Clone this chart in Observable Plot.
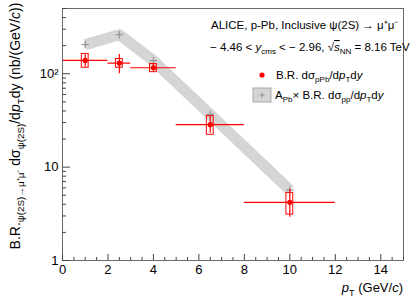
<!DOCTYPE html>
<html><head><meta charset="utf-8">
<script src="https://cdn.jsdelivr.net/npm/d3@7"></script>
<script src="https://cdn.jsdelivr.net/npm/@observablehq/plot@0.6"></script>
<style>
body{margin:0;background:#fff}
svg{font-family:"Liberation Sans",Arial,Helvetica,sans-serif}
</style>
</head><body><div id="chart"></div>
<script>
// ---- data ----
const ptCenter = [1, 2.5, 4, 6.5, 10];
const ptLow    = [0, 2, 3, 5, 8];
const ptHigh   = [2, 3, 5, 8, 12];
const yPPb     = [139, 130, 116, 28.5, 4.2];
const statLow  = [118, 100, 104, 23, 2.9];
const statHigh = [160, 161, 129, 34.5, 5.8];
const sysLow   = [116, 116, 104, 22.2, 3.1];
const sysHigh  = [163, 144, 127, 35.2, 5.3];
const yPPRef   = [205, 262, 138, 36.7, 5.7];
const xTicks = [0, 2, 4, 6, 8, 10, 12, 14];
const xTickLabels = ["0", "2", "4", "6", "8", "10", "12", "14"];
const yTicks = [1, 10, 100];
const yTickLabels = ["1", "10", "10²"];

const boxHalf = 0.15;
const pPb = ptCenter.map((x, i) => ({x, y: yPPb[i], xl: ptLow[i], xh: ptHigh[i],
  sl: statLow[i], sh: statHigh[i], yl: sysLow[i], yh: sysHigh[i]}));
const pp = ptCenter.map((x, i) => ({x, y: yPPRef[i]}));
const minorX = d3.range(0, 15.001, 0.5).filter(v => !xTicks.includes(v));
const minorY = [];
for (const dec of [1, 10, 100]) for (let k = 2; k <= 9; k++) if (k * dec <= 500) minorY.push(k * dec);

const chart = Plot.plot({
  width: 415, height: 300,
  marginLeft: 62, marginRight: 12, marginTop: 8, marginBottom: 40,
  x: {domain: [0, 15]},
  y: {type: "log", domain: [1, 500]},
  style: {fontFamily: "'Liberation Sans', Arial, sans-serif", fontSize: "13px", color: "#000", background: "#fff"},
  marks: [
    Plot.line(pp, {x: "x", y: "y", stroke: "#d5d5d5", strokeWidth: 11, strokeLinecap: "butt", strokeLinejoin: "round"}),
    Plot.dot(pp, {x: "x", y: "y", symbol: "plus", r: 2.5, stroke: "#999", strokeWidth: 1.3}),
    Plot.ruleY(pPb, {y: "y", x1: "xl", x2: "xh", stroke: "#ff0000", strokeWidth: 1.2}),
    Plot.ruleX(pPb, {x: "x", y1: "sl", y2: "sh", stroke: "#ff0000", strokeWidth: 1.2}),
    Plot.rect(pPb, {x1: d => d.x - boxHalf, x2: d => d.x + boxHalf, y1: "yl", y2: "yh", stroke: "#ff0000", fill: "none", strokeWidth: 1}),
    Plot.dot(pPb, {x: "x", y: "y", r: 2.6, fill: "#ff0000"}),
    Plot.frame({stroke: "#6a6a6a"}),
    Plot.axisX({ticks: xTicks, tickSize: -6, tickFormat: () => "", stroke: "#444"}),
    Plot.axisX({ticks: minorX, tickSize: -3, tickFormat: () => "", stroke: "#444"}),
    Plot.axisX({ticks: xTicks, tickSize: 0, tickPadding: 4, tickFormat: d => xTickLabels[xTicks.indexOf(d)], fontSize: 13, label: null}),
    Plot.axisY({ticks: yTicks, tickSize: -8, tickFormat: () => "", stroke: "#444"}),
    Plot.axisY({ticks: minorY, tickSize: -4, tickFormat: () => "", stroke: "#444"}),
    Plot.axisY({ticks: yTicks, tickSize: 0, tickPadding: 4, tickFormat: d => yTickLabels[yTicks.indexOf(d)], fontSize: 13, label: null})
  ]
});
document.getElementById("chart").appendChild(chart);

// ---- rich text helpers ----
const svg = d3.select(chart);
function rich(g, parts, base) {
  let shift = 0;
  for (const [t, kind] of parts) {
    const ts = g.append("tspan").text(t);
    let target = 0;
    if (kind === "sub" || kind === "subi") target = base * 0.3;
    if (kind === "sup") target = -base * 0.4;
    ts.attr("dy", target - shift);
    shift = target;
    if (kind === "sub" || kind === "subi" || kind === "sup") ts.attr("font-size", base * 0.7);
    if (kind === "i" || kind === "subi") ts.attr("font-style", "italic");
  }
  if (shift !== 0) g.append("tspan").text("\u200b").attr("dy", -shift);
}
function addText(x, y, parts, size, anchor = "start", rotate = 0) {
  const t = svg.append("text")
    .attr("transform", `translate(${x},${y}) rotate(${rotate})`)
    .attr("font-size", size).attr("text-anchor", anchor).attr("fill", "#000");
  rich(t, parts, size);
  return t;
}

// y-axis title
addText(20, 126, [["B.R.", "n"], ["ψ(2S)→μ⁺μ⁻", "sub"], [" dσ", "n"], ["ψ(2S)", "sub"],
  ["/d", "n"], ["p", "i"], ["T", "sub"], ["dy (nb/(GeV/", "n"], ["c", "i"], ["))", "n"]], 14, "middle", -90);
// x-axis title
addText(403, 292, [["p", "i"], ["T", "sub"], [" (GeV/", "n"], ["c", "i"], [")", "n"]], 13, "end");

// header text
addText(211, 29, [["ALICE, p-Pb, Inclusive ψ(2S) → μ⁺μ⁻", "n"]], 11.5);
addText(210, 51, [["− 4.46 < ", "n"], ["y", "i"], ["cms", "sub"], [" < − 2.96, √", "n"]], 11.5)
  .call(t => {
    t.append("tspan").attr("font-style", "italic").attr("text-decoration", "overline").text("s");
    rich(t, [["NN", "sub"], [" = 8.16 TeV", "n"]], 11.5);
  });

// legend
svg.append("circle").attr("cx", 262).attr("cy", 75).attr("r", 2.6).attr("fill", "#ff0000");
addText(276, 79, [["B.R. dσ", "n"], ["pPb", "sub"], ["/d", "n"], ["p", "i"], ["T", "sub"], ["d", "n"], ["y", "i"]], 11.5);
svg.append("rect").attr("x", 253).attr("y", 88).attr("width", 18).attr("height", 14)
  .attr("fill", "#d5d5d5").attr("stroke", "#aaa");
svg.append("path").attr("d", "M259.5,95h5M262,92.5v5").attr("stroke", "#999").attr("stroke-width", 1.2);
addText(275, 99, [["A", "n"], ["Pb", "sub"], ["× B.R. dσ", "n"], ["pp", "sub"], ["/d", "n"], ["p", "i"], ["T", "sub"], ["d", "n"], ["y", "i"]], 11.5);
</script>
</body></html>
